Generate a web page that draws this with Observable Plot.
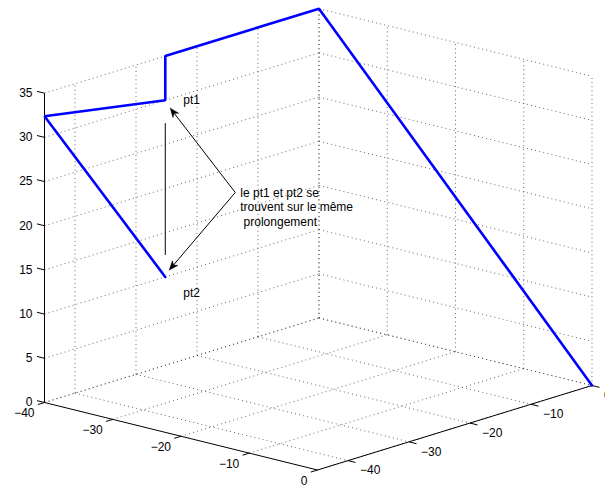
<!DOCTYPE html>
<html>
<head>
<meta charset="utf-8">
<script src="https://cdn.jsdelivr.net/npm/d3@7"></script>
<script src="https://cdn.jsdelivr.net/npm/@observablehq/plot@0.6"></script>
<style>
  html, body { margin: 0; padding: 0; background: #fff; }
  #chart svg { display: block; }
</style>
</head>
<body>
<div id="chart"></div>
<script>
// ---- data (3D) ----
const xLim = [-40, 0];
const yLim = [-45, 0];
const zLim = [0, 35];
const xTicks = [-40, -30, -20, -10, 0];
const yTicks = [-40, -30, -20, -10, 0];
const zTicks = [0, 5, 10, 15, 20, 25, 30, 35];
// polyline: pt2 -> corner -> pt1 -> up -> apex -> origin
const pathX = [-40, -40, -40, -40, -40, 0];
const pathY = [-25.2, -45, -25.2, -25.2, 0, 0];
const pathZ = [10, 32.4, 30, 35, 35, 0];
const pt1Index = 2, pt2Index = 0;
const pt1Label = "pt1", pt2Label = "pt2";
const noteText = "le pt1 et pt2 se\ntrouvent sur le même\n\u00a0prolongement";

// ---- view (orthographic projection of the plot box onto the page) ----
const W = 605, H = 485;
const origin = [44, 402];          // corner (xmin, ymin, zmin)
const xVec = [273, 67.5];          // along x from xmin to xmax
const yVec = [274.5, -84.5];       // along y from ymin to ymax
const zVec = [0, -309.3];          // along z from zmin to zmax
function P(x, y, z) {
  const fx = (x - xLim[0]) / (xLim[1] - xLim[0]);
  const fy = (y - yLim[0]) / (yLim[1] - yLim[0]);
  const fz = (z - zLim[0]) / (zLim[1] - zLim[0]);
  return [origin[0] + fx * xVec[0] + fy * yVec[0] + fz * zVec[0],
          origin[1] + fx * xVec[1] + fy * yVec[1] + fz * zVec[1]];
}
const seg = (a, b, kind) => ({x1: a[0], y1: a[1], x2: b[0], y2: b[1], kind});

// grid lines (floor z=zmin, back walls x=xmin and y=ymax)
const grid = [];
for (const xt of xTicks) {
  grid.push(seg(P(xt, yLim[0], zLim[0]), P(xt, yLim[1], zLim[0])));
  grid.push(seg(P(xt, yLim[1], zLim[0]), P(xt, yLim[1], zLim[1])));
}
for (const yt of yTicks) {
  grid.push(seg(P(xLim[0], yt, zLim[0]), P(xLim[1], yt, zLim[0])));
  grid.push(seg(P(xLim[0], yt, zLim[0]), P(xLim[0], yt, zLim[1])));
}
for (const zt of zTicks) {
  grid.push(seg(P(xLim[0], yLim[0], zt), P(xLim[0], yLim[1], zt)));
  grid.push(seg(P(xLim[0], yLim[1], zt), P(xLim[1], yLim[1], zt)));
}

// axis lines
const axes = [
  seg(P(xLim[0], yLim[0], zLim[0]), P(xLim[0], yLim[0], zLim[1])), // z
  seg(P(xLim[0], yLim[0], zLim[0]), P(xLim[1], yLim[0], zLim[0])), // x
  seg(P(xLim[1], yLim[0], zLim[0]), P(xLim[1], yLim[1], zLim[0]))  // y
];
const tl = 1.1; // tick length in data units
const ticks = [
  ...zTicks.map(t => seg(P(xLim[0], yLim[0], t), P(xLim[0] - tl, yLim[0], t))),
  ...xTicks.map(t => seg(P(t, yLim[0], zLim[0]), P(t, yLim[0] - tl, zLim[0]))),
  ...yTicks.map(t => seg(P(xLim[1], t, zLim[0]), P(xLim[1] + tl, t, zLim[0])))
];
const fmt = v => (v < 0 ? "\u2212" + Math.abs(v) : String(v));
const zLabels = zTicks.map(t => { const p = P(xLim[0], yLim[0], t); return {x: p[0], y: p[1], text: fmt(t)}; });
const xLabels = xTicks.map(t => { const p = P(t, yLim[0], zLim[0]); return {x: p[0], y: p[1], text: fmt(t)}; });
const yLabels = yTicks.map(t => { const p = P(xLim[1], t, zLim[0]); return {x: p[0], y: p[1], text: fmt(t)}; });

// data path
const path = pathX.map((x, i) => { const p = P(x, pathY[i], pathZ[i]); return {x: p[0], y: p[1]}; });
const pt1 = path[pt1Index], pt2 = path[pt2Index];

// annotation (arrows from the note to pt1 / pt2, and the vertical bar)
const tail = {x: pt1.x + 70, y: 192};
const heads = [{x: pt1.x + 5, y: pt1.y + 8}, {x: pt2.x + 4, y: pt2.y - 7}];
const arrowShafts = [], arrowHeads = [];
heads.forEach((h, k) => {
  const dx = h.x - tail.x, dy = h.y - tail.y, L = Math.hypot(dx, dy);
  const ux = dx / L, uy = dy / L, nx = -uy, ny = ux;
  const hl = 9, hw = 3.6, notch = 6.5;
  arrowShafts.push({x1: tail.x, y1: tail.y, x2: h.x - ux * notch, y2: h.y - uy * notch});
  [[h.x, h.y], [h.x - ux * hl + nx * hw, h.y - uy * hl + ny * hw],
   [h.x - ux * notch, h.y - uy * notch], [h.x - ux * hl - nx * hw, h.y - uy * hl - ny * hw],
   [h.x, h.y]].forEach(([x, y]) => arrowHeads.push({x, y, id: k}));
});
const bar = [{x1: pt1.x, y1: pt1.y + 23, x2: pt2.x, y2: pt2.y - 22}];

const font = "'Liberation Sans', Arial, Helvetica, sans-serif";
const chart = Plot.plot({
  width: W, height: H, margin: 0,
  x: {domain: [0, W], range: [0, W], axis: null},
  y: {domain: [0, H], range: [0, H], axis: null},
  style: {background: "#fff", fontFamily: font, fontSize: "12px", color: "#000"},
  marks: [
    Plot.link(grid, {x1: "x1", y1: "y1", x2: "x2", y2: "y2", stroke: "#3a3a3a", strokeWidth: 0.9, strokeDasharray: "1,3.2", strokeOpacity: 0.85}),
    Plot.link(axes, {x1: "x1", y1: "y1", x2: "x2", y2: "y2", stroke: "#000", strokeWidth: 1}),
    Plot.link(ticks, {x1: "x1", y1: "y1", x2: "x2", y2: "y2", stroke: "#000", strokeWidth: 1}),
    Plot.text(zLabels, {x: "x", y: "y", text: "text", dx: -12, textAnchor: "end", lineAnchor: "middle", fontSize: 12, fill: "#000"}),
    Plot.text(xLabels, {x: "x", y: "y", text: "text", dx: -10, dy: 11, textAnchor: "end", lineAnchor: "middle", fontSize: 12, fill: "#000"}),
    Plot.text(yLabels, {x: "x", y: "y", text: "text", dx: 12, dy: 10, textAnchor: "start", lineAnchor: "middle", fontSize: 12, fill: "#000"}),
    Plot.link(bar, {x1: "x1", y1: "y1", x2: "x2", y2: "y2", stroke: "#000", strokeWidth: 1}),
    Plot.link(arrowShafts, {x1: "x1", y1: "y1", x2: "x2", y2: "y2", stroke: "#000", strokeWidth: 1}),
    Plot.line(arrowHeads, {x: "x", y: "y", z: "id", fill: "#000", stroke: "#000", strokeWidth: 0.5, curve: "linear"}),
    Plot.text([pt1], {x: "x", y: "y", text: () => pt1Label, dx: 18, dy: 0, textAnchor: "start", lineAnchor: "middle", fontSize: 12, fill: "#000"}),
    Plot.text([pt2], {x: "x", y: "y", text: () => pt2Label, dx: 18, dy: 16, textAnchor: "start", lineAnchor: "middle", fontSize: 12, fill: "#000"}),
    Plot.text([tail], {x: "x", y: "y", text: () => noteText, dx: 5, dy: -6, textAnchor: "start", lineAnchor: "top", lineHeight: 1.2, fontSize: 12, fill: "#000"}),
    Plot.line(path, {x: "x", y: "y", stroke: "#0000ff", strokeWidth: 2.6, strokeLinejoin: "miter", curve: "linear"})
  ]
});
document.getElementById("chart").appendChild(chart);
</script>
</body>
</html>
